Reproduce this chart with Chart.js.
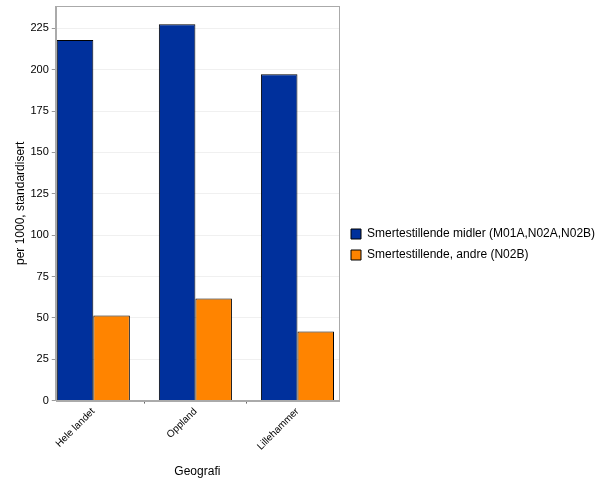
<!DOCTYPE html>
<html><head><meta charset="utf-8">
<script src="https://cdn.jsdelivr.net/npm/chart.js@4"></script>
<style>html,body{margin:0;padding:0;background:#fff}#wrap{width:600px;height:485px}</style>
</head><body><div id="wrap"><canvas id="c" width="600" height="485"></canvas></div>
<script>
const categories = ["Hele landet", "Oppland", "Lillehammer"];
const seriesNames = ["Smertestillende midler (M01A,N02A,N02B)", "Smertestillende, andre (N02B)"];
const seriesA = [218, 227.5, 197.2];
const seriesB = [51.4, 61.7, 41.7];
const yTicks = [0, 25, 50, 75, 100, 125, 150, 175, 200, 225];
const colors = ["#00309C", "#FF8400"];

const toPts = arr => arr.map((v, i) => ({x: i, y: v}));

const borderPlugin = {
  id: 'plotBorder',
  afterDraw(chart) {
    const a = chart.chartArea, ctx = chart.ctx;
    ctx.save();
    ctx.strokeStyle = '#aaaaaa';
    ctx.lineWidth = 1;
    ctx.strokeRect(Math.round(a.left) + 0.5, Math.round(a.top) + 0.5, Math.round(a.right - a.left), Math.round(a.bottom - a.top));
    ctx.restore();
  }
};

const legendWidthPlugin = {
  id: 'legendWidth',
  afterInit(chart) {
    const lg = chart.legend;
    if (!lg || lg._patched) return;
    const orig = lg.update.bind(lg);
    lg.update = function (w, h, m) { return orig(Math.max(w, 261), h, m); };
    const origFit = lg.fit.bind(lg);
    lg.fit = function () { origFit(); this.width = 261; };
    lg._patched = true;
  },
  afterLayout(chart) {
    const lg = chart.legend;
    if (!lg) return;
    lg.left += 3; lg.right += 3;
    lg.top += 2; lg.bottom += 2;
  }
};

new Chart(document.getElementById('c'), {
  type: 'bar',
  data: {
    datasets: [
      {label: seriesNames[0], data: toPts(seriesA), backgroundColor: colors[0], borderColor: '#000', borderWidth: 1, borderSkipped: 'bottom'},
      {label: seriesNames[1], data: toPts(seriesB), backgroundColor: colors[1], borderColor: '#000', borderWidth: 1, borderSkipped: 'bottom'}
    ]
  },
  plugins: [legendWidthPlugin, borderPlugin],
  options: {
    responsive: false,
    animation: false,
    layout: {padding: {left: 13, right: 0, top: 6, bottom: 6}},
    datasets: {bar: {barPercentage: 1, categoryPercentage: 0.716}},
    scales: {
      x: {
        type: 'linear', min: -0.368, max: 2.407, offset: false,
        afterBuildTicks: s => { s.ticks = categories.map((c, i) => ({value: i})); },
        afterFit: s => { s.paddingLeft = 0; s.paddingRight = 0; },
        ticks: {callback: (v) => categories[v], maxRotation: 45, minRotation: 45, color: '#000', font: {family: 'Liberation Sans, Arial', size: 10}, padding: 2},
        grid: {display: true, drawOnChartArea: false, tickLength: 3, tickColor: '#666'},
        border: {display: true, color: '#aaaaaa'},
        title: {display: true, text: 'Geografi', color: '#000', font: {family: 'Liberation Sans, Arial', size: 12}, padding: {top: 10, bottom: 0}}
      },
      y: {
        min: 0, max: 238.5,
        afterBuildTicks: s => { s.ticks = yTicks.map(v => ({value: v})); },
        afterFit: s => { s.paddingTop = 0; s.paddingBottom = 0; },
        ticks: {color: '#000', font: {family: 'Liberation Sans, Arial', size: 11}, padding: 3},
        grid: {color: '#f0f0f0', tickColor: '#999', tickLength: 4},
        border: {display: true, color: '#aaaaaa'},
        title: {display: true, text: 'per 1000, standardisert', color: '#000', font: {family: 'Liberation Sans, Arial', size: 12}, padding: {top: 0, bottom: 0}}
      }
    },
    plugins: {
      legend: {
        position: 'right',
        labels: {boxWidth: 10, boxHeight: 10, color: '#000', font: {family: 'Liberation Sans, Arial', size: 12}, padding: 9,
          generateLabels: chart => chart.data.datasets.map((d, i) => ({text: d.label, fillStyle: d.backgroundColor, strokeStyle: '#000', lineWidth: 1, datasetIndex: i, fontColor: '#000'}))}
      },
      tooltip: {enabled: false}
    }
  }
});
</script></body></html>
